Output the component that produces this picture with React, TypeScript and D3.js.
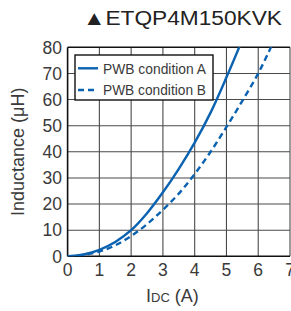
import React from "react";
import * as d3 from "d3";

const xTicks = [0, 1, 2, 3, 4, 5, 6, 7];
const yTicks = [0, 10, 20, 30, 40, 50, 60, 70, 80];
const currentA = [0, 0.5, 1, 1.5, 2, 2.5, 3, 3.5, 4, 4.5, 5, 5.4, 5.6];
const inductA = [0, 0.7, 2.5, 5.5, 10, 16.5, 24.5, 33.5, 43.5, 55, 68.5, 80, 86];
const currentB = [0, 0.5, 1, 1.5, 2, 2.5, 3, 3.5, 4, 4.5, 5, 5.5, 6, 6.4, 6.6];
const inductB = [0, 0.5, 1.8, 4.2, 7.8, 12.3, 17.8, 24, 31.5, 40, 49.5, 59.5, 70, 80, 85];
const seriesNames = ["PWB condition A", "PWB condition B"];
const title = "▲ETQP4M150KVK";

export default function App() {
  const W = 291, H = 311;
  const x = d3.scaleLinear().domain([0, 7]).range([67.6, 290]);
  const y = d3.scaleLinear().domain([0, 80]).range([256.3, 47.3]);
  const line = d3
    .line<[number, number]>()
    .x((d) => x(d[0]))
    .y((d) => y(d[1]))
    .curve(d3.curveCatmullRom.alpha(0.5));
  const dA = line(currentA.map((c, i) => [c, inductA[i]] as [number, number])) || "";
  const dB = line(currentB.map((c, i) => [c, inductB[i]] as [number, number])) || "";
  const blue = "#0a62b0";
  const font = "'Liberation Sans', Arial, Helvetica, sans-serif";
  const textCol = "#3a3a3a";
  return (
    <svg
      width={W}
      height={H}
      style={{ position: "absolute", left: 0, top: 0 }}
      fontFamily={font}
    >
      <rect width={W} height={H} fill="#fff" />
      <text x={282} y={25} fontSize={20} textAnchor="end" fill="#222" textLength={199} lengthAdjust="spacingAndGlyphs">
        {title}
      </text>
      <defs>
        <clipPath id="plot">
          <rect x={x(0)} y={y(80)} width={x(7) - x(0)} height={y(0) - y(80)} />
        </clipPath>
      </defs>
      {xTicks.slice(1).map((t) => (
        <line key={"gx" + t} x1={x(t)} x2={x(t)} y1={y(0)} y2={y(80)} stroke="#4a4a4a" strokeWidth={1.1} />
      ))}
      {yTicks.slice(1, -1).map((t) => (
        <line key={"gy" + t} x1={x(0)} x2={x(7)} y1={y(t)} y2={y(t)} stroke="#4a4a4a" strokeWidth={1.1} />
      ))}
      <line x1={x(0)} x2={x(7)} y1={y(80)} y2={y(80)} stroke="#111" strokeWidth={1.4} />
      <line x1={x(0)} x2={x(7)} y1={y(0)} y2={y(0)} stroke="#111" strokeWidth={1.6} />
      <line x1={x(0)} x2={x(0)} y1={y(0)} y2={y(80)} stroke="#111" strokeWidth={1.6} />
      <g clipPath="url(#plot)">
        <path d={dB} fill="none" stroke={blue} strokeWidth={2.4} strokeDasharray="6,4" />
        <path d={dA} fill="none" stroke={blue} strokeWidth={2.4} />
      </g>
      {yTicks.map((t) => (
        <text key={"ty" + t} x={62} y={y(t)} dy="0.36em" fontSize={17.5} textAnchor="end" fill={textCol}>
          {t}
        </text>
      ))}
      {xTicks.map((t) => (
        <text key={"tx" + t} x={x(t)} y={276} fontSize={17.5} textAnchor="middle" fill={textCol}>
          {t}
        </text>
      ))}
      <text x={146} y={301.5} fontSize={18} fill={textCol}>
        I<tspan fontSize={13}>DC</tspan> (A)
      </text>
      <text
        transform={`translate(24,${(y(0) + y(80)) / 2}) rotate(-90)`}
        fontSize={18}
        textAnchor="middle"
        fill={textCol}
      >
        Inductance (μH)
      </text>
      <rect x={75} y={55} width={138} height={45} fill="#fff" stroke="#111" strokeWidth={1.4} />
      <line x1={78} x2={98} y1={68.3} y2={68.3} stroke={blue} strokeWidth={2.4} />
      <line x1={78} x2={98} y1={90} y2={90} stroke={blue} strokeWidth={2.4} strokeDasharray="6,4" />
      <text x={103} y={73.5} fontSize={14} fill={textCol} textLength={103} lengthAdjust="spacingAndGlyphs">
        {seriesNames[0]}
      </text>
      <text x={103} y={95} fontSize={14} fill={textCol} textLength={103} lengthAdjust="spacingAndGlyphs">
        {seriesNames[1]}
      </text>
    </svg>
  );
}
